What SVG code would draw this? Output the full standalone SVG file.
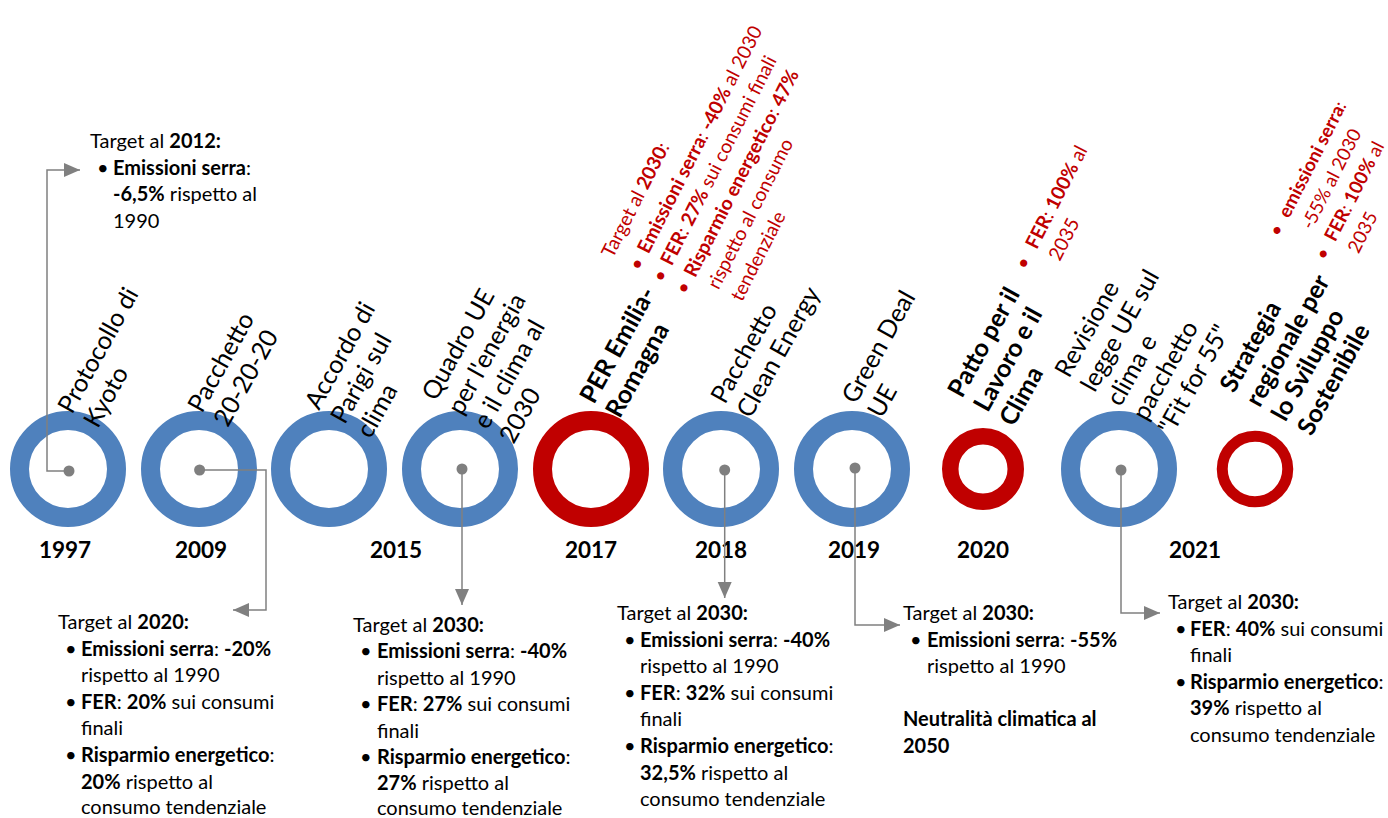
<svg xmlns="http://www.w3.org/2000/svg" width="1388" height="818" viewBox="0 0 1388 818">
<defs>
<marker id="arr" markerUnits="userSpaceOnUse" markerWidth="18" markerHeight="16" refX="16" refY="7" orient="auto">
<path d="M0,0 L16,7 L0,14 Z" fill="#808080"/>
</marker>
<style>
text{font-family:Lato,"Liberation Sans",sans-serif;fill:#000}
.lbl{font-size:25px}
.yr{font-size:22.5px;font-weight:bold;text-anchor:middle}
.tx{font-size:20px}
.red{font-size:19.3px;fill:#C00000}
.b{font-weight:bold}
.ringB{fill:none;stroke:#4F81BD;stroke-width:19}
.ringR{fill:none;stroke:#C00000;stroke-width:19}
.con{fill:none;stroke:#808080;stroke-width:1.5}
.dot{fill:#7F7F7F}
</style>
</defs>
<rect width="1388" height="818" fill="#fff"/>

<g id="n1997">
<circle class="ringB" cx="68" cy="469" r="48.5"/>
<text class="yr" x="65" y="558">1997</text>
<text class="lbl" transform="translate(72,415) rotate(-61)"><tspan x="0" y="0">Protocollo di</tspan><tspan x="0" y="29.5">Kyoto</tspan></text>
<text class="tx" x="90" y="148">Target al <tspan class="b">2012:</tspan></text>
<text class="tx" x="97" y="174.6">•</text>
<text class="tx" x="113" y="174.6"><tspan class="b">Emissioni serra</tspan>:</text>
<text class="tx" x="113" y="201.2"><tspan class="b">-6,5%</tspan> rispetto al</text>
<text class="tx" x="113" y="227.8">1990</text>
</g>

<g id="n2009">
<circle class="ringB" cx="199" cy="469" r="48.5"/>
<text class="yr" x="201" y="558">2009</text>
<text class="lbl" transform="translate(202,414) rotate(-61)"><tspan x="0" y="0">Pacchetto</tspan><tspan x="0" y="29.5">20-20-20</tspan></text>
<text class="tx" x="58" y="629">Target al <tspan class="b">2020:</tspan></text>
<text class="tx" x="65" y="655.6">•</text>
<text class="tx" x="81" y="655.6"><tspan class="b">Emissioni serra</tspan>: <tspan class="b">-20%</tspan></text>
<text class="tx" x="81" y="682.2">rispetto al 1990</text>
<text class="tx" x="65" y="708.8">•</text>
<text class="tx" x="81" y="708.8"><tspan class="b">FER</tspan>: <tspan class="b">20%</tspan> sui consumi</text>
<text class="tx" x="81" y="735.4">finali</text>
<text class="tx" x="65" y="762">•</text>
<text class="tx" x="81" y="762"><tspan class="b">Risparmio energetico</tspan>:</text>
<text class="tx" x="81" y="788.6"><tspan class="b">20%</tspan> rispetto al</text>
<text class="tx" x="81" y="814">consumo tendenziale</text>
</g>

<g id="n2015">
<circle class="ringB" cx="329" cy="469" r="48.5"/>
<text class="yr" x="396" y="558">2015</text>
<text class="lbl" transform="translate(319,411) rotate(-61)"><tspan x="0" y="0">Accordo di</tspan><tspan x="0" y="29.5">Parigi sul</tspan><tspan x="0" y="59">clima</tspan></text>
</g>

<g id="nQuadro">
<circle class="ringB" cx="460" cy="469" r="48.5"/>
<text class="lbl" transform="translate(436,402) rotate(-61)"><tspan x="0" y="0">Quadro UE</tspan><tspan x="0" y="29.5">per l'energia</tspan><tspan x="0" y="59">e il clima al</tspan><tspan x="0" y="88.5">2030</tspan></text>
<text class="tx" x="353" y="632">Target al <tspan class="b">2030:</tspan></text>
<text class="tx" x="360" y="658.4">•</text>
<text class="tx" x="377" y="658.4"><tspan class="b">Emissioni serra</tspan>: <tspan class="b">-40%</tspan></text>
<text class="tx" x="377" y="684.8">rispetto al 1990</text>
<text class="tx" x="360" y="711.2">•</text>
<text class="tx" x="377" y="711.2"><tspan class="b">FER</tspan>: <tspan class="b">27%</tspan> sui consumi</text>
<text class="tx" x="377" y="737.6">finali</text>
<text class="tx" x="360" y="764">•</text>
<text class="tx" x="377" y="764"><tspan class="b">Risparmio energetico</tspan>:</text>
<text class="tx" x="377" y="790.4"><tspan class="b">27%</tspan> rispetto al</text>
<text class="tx" x="377" y="815">consumo tendenziale</text>
</g>

<g id="n2017">
<circle class="ringR" cx="591" cy="469" r="48.5"/>
<text class="yr" x="591" y="558">2017</text>
<text class="lbl b" transform="translate(594,405) rotate(-61)"><tspan x="0" y="0">PER Emilia-</tspan><tspan x="0" y="29.5">Romagna</tspan></text>
<text class="red" transform="translate(612.7,259) rotate(-63)"><tspan x="0" y="0">Target al <tspan class="b">2030</tspan>:</tspan><tspan x="1" y="30">•</tspan><tspan x="20" y="30"><tspan class="b">Emissioni serra</tspan>: <tspan class="b">-40%</tspan> al 2030</tspan><tspan x="1" y="56.2">•</tspan><tspan x="20" y="56.2"><tspan class="b">FER</tspan>: <tspan class="b">27%</tspan> sui consumi finali</tspan><tspan x="1" y="82.4">•</tspan><tspan x="20" y="82.4"><tspan class="b">Risparmio energetico</tspan>: <tspan class="b">47%</tspan></tspan><tspan x="20" y="108.6">rispetto al consumo</tspan><tspan x="20" y="134.8">tendenziale</tspan></text>
</g>

<g id="n2018">
<circle class="ringB" cx="721" cy="469" r="48.5"/>
<text class="yr" x="721" y="558">2018</text>
<text class="lbl" transform="translate(725,405) rotate(-61)"><tspan x="0" y="0">Pacchetto</tspan><tspan x="0" y="29.5">Clean Energy</tspan></text>
<text class="tx" x="617" y="620">Target al <tspan class="b">2030:</tspan></text>
<text class="tx" x="624" y="646.6">•</text>
<text class="tx" x="640" y="646.6"><tspan class="b">Emissioni serra</tspan>: <tspan class="b">-40%</tspan></text>
<text class="tx" x="640" y="673.2">rispetto al 1990</text>
<text class="tx" x="624" y="699.8">•</text>
<text class="tx" x="640" y="699.8"><tspan class="b">FER</tspan>: <tspan class="b">32%</tspan> sui consumi</text>
<text class="tx" x="640" y="726.4">finali</text>
<text class="tx" x="624" y="753">•</text>
<text class="tx" x="640" y="753"><tspan class="b">Risparmio energetico</tspan>:</text>
<text class="tx" x="640" y="779.6"><tspan class="b">32,5%</tspan> rispetto al</text>
<text class="tx" x="640" y="806.2">consumo tendenziale</text>
</g>

<g id="n2019">
<circle class="ringB" cx="852" cy="469" r="48.5"/>
<text class="yr" x="854" y="558">2019</text>
<text class="lbl" transform="translate(856,405) rotate(-61)"><tspan x="0" y="0">Green Deal</tspan><tspan x="0" y="29.5">UE</tspan></text>
<text class="tx" x="903" y="620">Target al <tspan class="b">2030:</tspan></text>
<text class="tx" x="910" y="646.6">•</text>
<text class="tx" x="927" y="646.6"><tspan class="b">Emissioni serra</tspan>: <tspan class="b">-55%</tspan></text>
<text class="tx" x="927" y="673.2">rispetto al 1990</text>
<text class="tx b" x="903" y="726.4">Neutralità climatica al</text>
<text class="tx b" x="903" y="753">2050</text>
</g>

<g id="n2020">
<circle cx="983" cy="469" r="32.75" fill="none" stroke="#C00000" stroke-width="16.5"/>
<text class="yr" x="983" y="558">2020</text>
<text class="lbl b" transform="translate(962,399) rotate(-61)"><tspan x="0" y="0">Patto per il</tspan><tspan x="0" y="29.5">Lavoro e il</tspan><tspan x="0" y="59">Clima</tspan></text>
<text class="red" transform="translate(1036.7,250.3) rotate(-63)"><tspan x="-23" y="0">•</tspan><tspan x="0" y="0"><tspan class="b">FER</tspan>: <tspan class="b">100%</tspan> al</tspan><tspan x="0" y="26">2035</tspan></text>
</g>

<g id="nRevisione">
<circle class="ringB" cx="1119" cy="469" r="48.5"/>
<text class="lbl" transform="translate(1069,379) rotate(-61)"><tspan x="0" y="0">Revisione</tspan><tspan x="0" y="29.5">legge UE sul</tspan><tspan x="0" y="59">clima e</tspan><tspan x="0" y="88.5">pacchetto</tspan><tspan x="0" y="118">"Fit for 55"</tspan></text>
<text class="tx" x="1168" y="609">Target al <tspan class="b">2030:</tspan></text>
<text class="tx" x="1175" y="635.6">•</text>
<text class="tx" x="1190" y="635.6"><tspan class="b">FER</tspan>: <tspan class="b">40%</tspan> sui consumi</text>
<text class="tx" x="1190" y="662.2">finali</text>
<text class="tx" x="1175" y="688.8">•</text>
<text class="tx" x="1190" y="688.8"><tspan class="b">Risparmio energetico</tspan>:</text>
<text class="tx" x="1190" y="715.4"><tspan class="b">39%</tspan> rispetto al</text>
<text class="tx" x="1190" y="742">consumo tendenziale</text>
</g>

<g id="n2021">
<circle cx="1255" cy="469" r="32.75" fill="none" stroke="#C00000" stroke-width="11"/>
<text class="yr" x="1195" y="558">2021</text>
<text class="lbl b" transform="translate(1234,394) rotate(-61)"><tspan x="0" y="0">Strategia</tspan><tspan x="0" y="29.5">regionale per</tspan><tspan x="0" y="59">lo Sviluppo</tspan><tspan x="0" y="88.5">Sostenibile</tspan></text>
<text class="red" style="font-size:18.6px" transform="translate(1289,219) rotate(-63)"><tspan x="-21" y="0">•</tspan><tspan x="0" y="0" class="b">emissioni serra</tspan><tspan>:</tspan><tspan x="0" y="26">-55% al 2030</tspan><tspan x="-21" y="52">•</tspan><tspan x="0" y="52"><tspan class="b">FER</tspan>: <tspan class="b">100%</tspan> al</tspan><tspan x="0" y="78">2035</tspan></text>
</g>

<g id="connectors">
<path class="con" d="M69,471 H47 V170 H80" marker-end="url(#arr)"/>
<path class="con" d="M199.6,470 H266 V610 H233" marker-end="url(#arr)"/>
<path class="con" d="M462,469 V605" marker-end="url(#arr)"/>
<path class="con" d="M724.7,470 V598" marker-end="url(#arr)"/>
<path class="con" d="M855,468 V625 H900" marker-end="url(#arr)"/>
<path class="con" d="M1121,470 V613 H1160" marker-end="url(#arr)"/>
<circle class="dot" cx="69" cy="471" r="5.5"/>
<circle class="dot" cx="199.6" cy="470" r="5.5"/>
<circle class="dot" cx="462" cy="469" r="5.5"/>
<circle class="dot" cx="724.7" cy="470" r="5.5"/>
<circle class="dot" cx="855" cy="468" r="5.5"/>
<circle class="dot" cx="1121" cy="470" r="5.5"/>
</g>
</svg>
